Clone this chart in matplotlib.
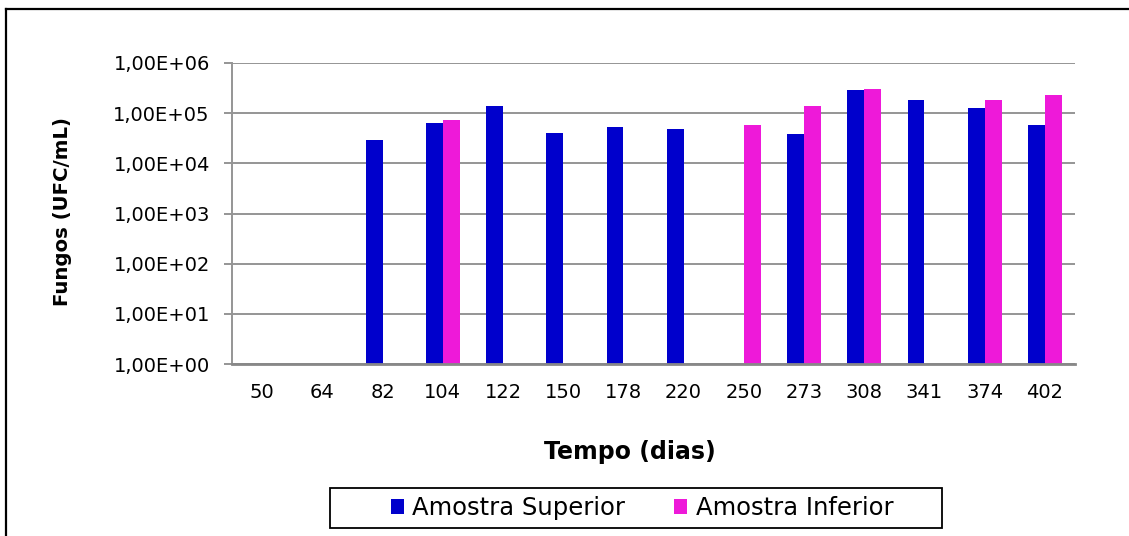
import numpy as np
import matplotlib.pyplot as plt
from matplotlib.lines import Line2D
from matplotlib.patches import Patch, Rectangle
from matplotlib.ticker import FixedLocator, FuncFormatter, NullLocator

# days of sampling
dias = ["50", "64", "82", "104", "122", "150", "178", "220",
        "250", "273", "308", "341", "374", "402"]

# fungi counts (UFC/mL), nan = not measured
superior = [np.nan, np.nan, 2.9e4, 6.3e4, 1.39e5, 4.1e4, 5.4e4, 4.8e4,
            np.nan, 3.9e4, 2.9e5, 1.87e5, 1.29e5, 5.9e4]
inferior = [np.nan, np.nan, np.nan, 7.2e4, np.nan, np.nan, np.nan, np.nan,
            5.9e4, 1.39e5, 3.1e5, np.nan, 1.87e5, 2.28e5]

series_names = ["Amostra Superior", "Amostra Inferior"]
colors = ["#0000CC", "#EE19D9"]

W, H = 1129, 536


def main():
    plt.rcParams["font.family"] = ["DejaVu Sans"]
    fig = plt.figure(figsize=(W / 100, H / 100), dpi=100)
    ax = fig.add_axes([232 / W, 1 - 364 / H, (1075 - 232) / W, (364 - 63) / H])

    x = np.arange(len(dias))
    bw = 0.28
    for vals, off, c in [(superior, -bw / 2, colors[0]), (inferior, bw / 2, colors[1])]:
        v = np.array(vals, dtype=float)
        m = np.isfinite(v)
        ax.bar(x[m] + off, v[m] - 1, bottom=1, width=bw, color=c,
               edgecolor="none", zorder=3)

    ax.set_yscale("log")
    ax.set_ylim(1, 1e6)
    ax.set_xlim(-0.5, len(dias) - 0.5)
    ax.yaxis.set_major_locator(FixedLocator([10.0 ** k for k in range(7)]))
    ax.yaxis.set_minor_locator(NullLocator())
    ax.yaxis.set_major_formatter(FuncFormatter(
        lambda v, p: "1,00E+%02d" % int(round(np.log10(v)))))
    ax.set_xticks(x)
    ax.set_xticklabels(dias)

    ax.grid(axis="y", color="#959595", linewidth=1.4, zorder=0)
    ax.set_axisbelow(True)
    for s in ["top", "right"]:
        ax.spines[s].set_visible(False)
    ax.spines["left"].set_color("#959595")
    ax.spines["left"].set_linewidth(1.4)
    ax.spines["bottom"].set_color("#888888")
    ax.spines["bottom"].set_linewidth(2.0)
    ax.spines["bottom"].set_zorder(4)
    ax.tick_params(axis="y", length=6, width=1.4, color="#959595",
                   pad=10, labelsize=14)
    ax.tick_params(axis="x", length=0, pad=14, labelsize=14)

    fig.text(630 / W, 1 - 452 / H, "Tempo (dias)", ha="center", va="center",
             fontsize=17, fontweight="bold")
    fig.text(62 / W, 1 - 211 / H, "Fungos (UFC/mL)", ha="center", va="center",
             rotation=90, fontsize=14.2, fontweight="bold")

    handles = [Patch(facecolor=c, edgecolor="none") for c in colors]
    fig.legend(handles, series_names, loc="center", ncol=2,
               bbox_to_anchor=(642 / W, 1 - 508 / H), frameon=False,
               fontsize=17.5, handlelength=0.55, handleheight=0.55,
               handletextpad=0.35, columnspacing=2.0)
    fig.patches.append(Rectangle((330 / W, 1 - 528 / H), (942 - 330) / W, 40 / H,
                                 transform=fig.transFigure, fill=False,
                                 edgecolor="black", linewidth=1.3))

    # outer chart frame (top and left edges only visible)
    fig.add_artist(Line2D([5.5 / W, 1], [1 - 8.5 / H, 1 - 8.5 / H],
                          transform=fig.transFigure, color="black", linewidth=1.6))
    fig.add_artist(Line2D([5.5 / W, 5.5 / W], [0, 1 - 8.5 / H],
                          transform=fig.transFigure, color="black", linewidth=1.6))

    fig.savefig("out.png", dpi=100)


if __name__ == "__main__":
    main()
